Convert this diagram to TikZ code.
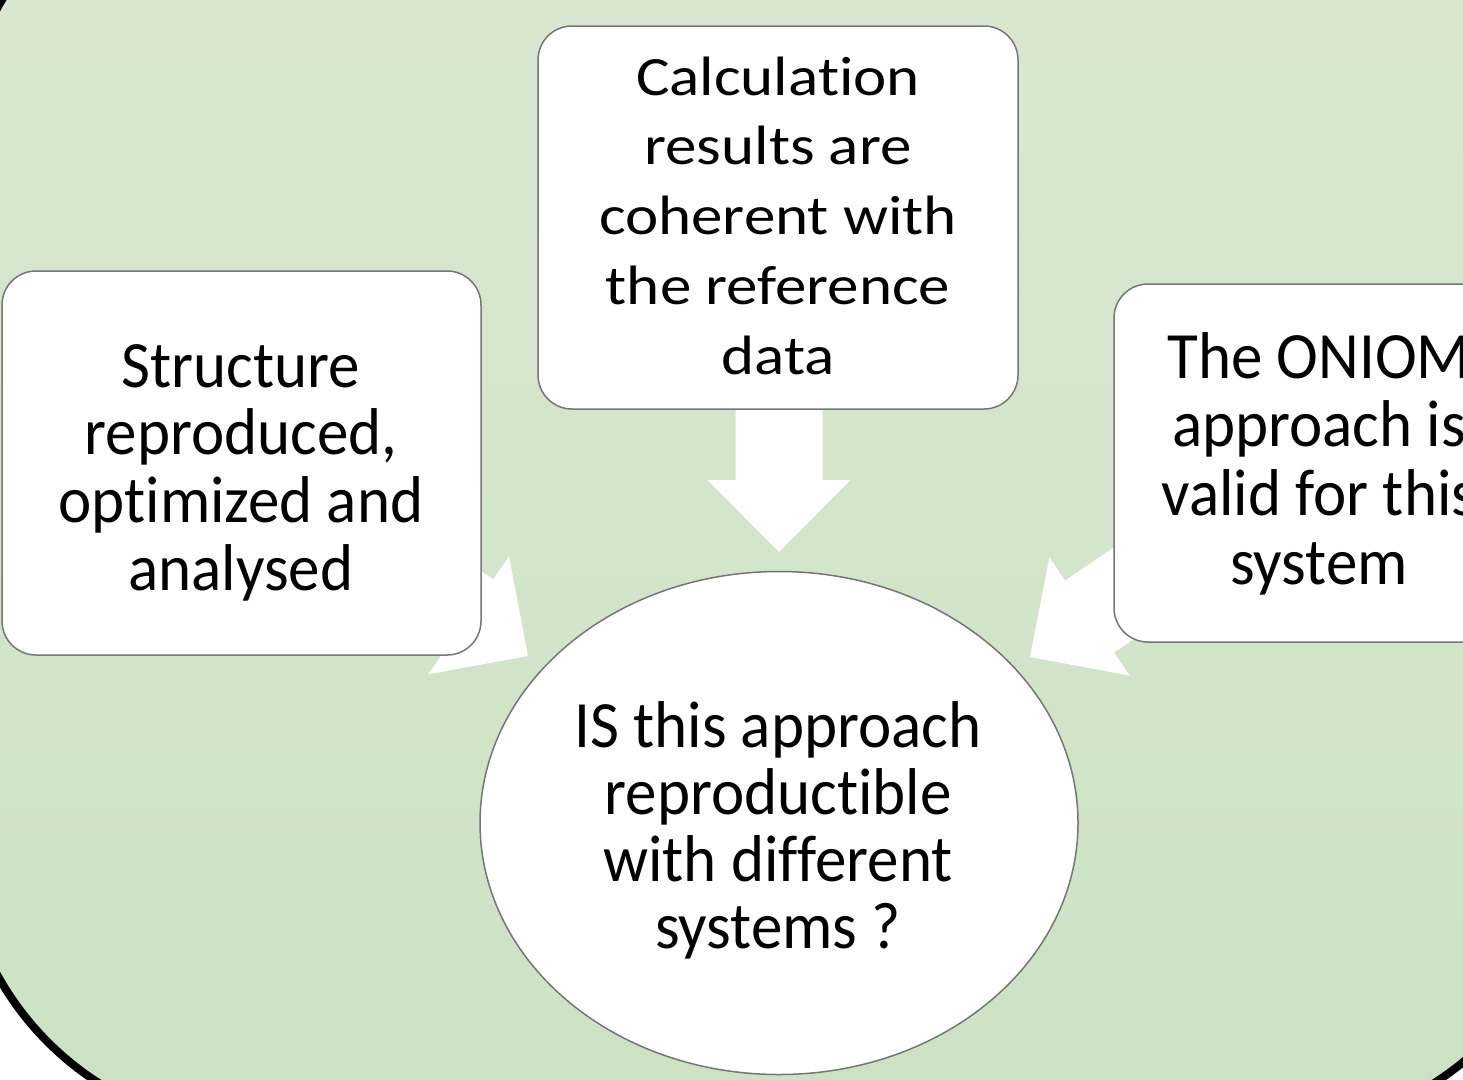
\documentclass[tikz,border=0pt]{standalone}
\usepackage{fontspec}
\setmainfont{Carlito}[Ligatures=NoCommon]
\usetikzlibrary{shapes.geometric}
\definecolor{boxgray}{RGB}{118,118,118}
\definecolor{bgtop}{RGB}{219,232,211}
\definecolor{bgbot}{RGB}{204,226,195}
\newcommand{\lines}[1]{\begin{tabular}[t]{@{}c@{}}#1\end{tabular}}
\begin{document}
\begin{tikzpicture}[x=1pt,y=-1pt,
  box/.style={draw=boxgray, line width=1.5pt, fill=white, rounded corners=34pt, inner sep=0pt},
  oval/.style={draw=boxgray, line width=1.5pt, fill=white, ellipse, inner sep=0pt},
  txt/.style={anchor=base, inner sep=0pt, transform shape},
  blockarrow/.pic={\fill[white] (0,0) -- (-72,71.5) -- (-72,43.5) -- (-200,43.5)
    -- (-200,-43.5) -- (-72,-43.5) -- (-72,-71.5) -- cycle;}]
\useasboundingbox (0,0) rectangle (1463,1079);
\clip (0,0) rectangle (1463,1079);
\fill[white] (0,0) rectangle (1463,1079);
% background panel
\shade[top color=bgtop, bottom color=bgbot, rounded corners=300pt] (-40,-147) rectangle (1573,1130);
\draw[line width=8pt, rounded corners=300pt] (-40,-147) rectangle (1573,1130);
% arrow tips
\coordinate (tipdown) at (779,552);
\coordinate (tipleft) at (528,656);
\coordinate (tipright) at (1030,657);
% block arrows
\pic[rotate=-90] at (tipdown) {blockarrow};
\pic[rotate=-34.4] at (tipleft) {blockarrow};
\pic[rotate=-145.8] at (tipright) {blockarrow};
% boxes
\node[box, minimum width=480pt, minimum height=383pt] (calc) at (778,217.5) {};
\node[box, minimum width=479pt, minimum height=384pt] (struct) at (241.5,463) {};
\node[box, minimum width=410pt, minimum height=358pt] (oniom) at (1319,463) {};
\node[oval, minimum width=598pt, minimum height=503pt] (quest) at (779,823) {};
% texts
\node[txt, yscale=0.88, font=\fontsize{63}{79.5}\selectfont] (calctxt) at (778,95)
  {\lines{Calculation\\results are\\coherent with\\the reference\\data}};
\node[txt, yscale=1.05, font=\fontsize{63}{64.5}\selectfont] (structtxt) at (241,387)
  {\lines{Structure\\reproduced,\\optimized and\\analysed}};
\node[txt, yscale=1.05, font=\fontsize{63}{65.7}\selectfont] (oniomtxt) at (1319,378)
  {\lines{The ONIOM\\approach is\\valid for this\\system}};
\node[txt, yscale=1.05, font=\fontsize{63}{64}\selectfont] (questtxt) at (778,747)
  {\lines{IS this approach\\reproductible\\with different\\systems ?}};
\end{tikzpicture}
\end{document}
